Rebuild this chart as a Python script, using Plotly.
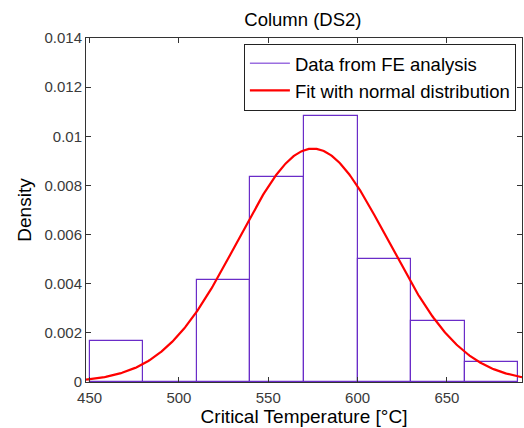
import numpy as np
import plotly.graph_objects as go

# Histogram data (density) from FE analysis
bin_edges = [450, 480, 510, 540, 570, 600, 630, 660, 690]
densities = [0.001667, 0.0, 0.004167, 0.008333, 0.010833, 0.005, 0.0025, 0.000833]

# Normal fit parameters
fit_mu = 575.0
fit_sigma = 42.0

x_range = [448, 692]
y_range = [0, 0.014]
x_ticks = [450, 500, 550, 600, 650]
y_ticks = [0, 0.002, 0.004, 0.006, 0.008, 0.01, 0.012, 0.014]
y_ticklabels = ["0", "0.002", "0.004", "0.006", "0.008", "0.01", "0.012", "0.014"]

purple = "#6a2cc8"
font_family = "Arial, Liberation Sans, sans-serif"

centers = [(a + b) / 2 for a, b in zip(bin_edges[:-1], bin_edges[1:])]
widths = [b - a for a, b in zip(bin_edges[:-1], bin_edges[1:])]

xs = np.linspace(x_range[0], x_range[1], 400)
ys = np.exp(-0.5 * ((xs - fit_mu) / fit_sigma) ** 2) / (fit_sigma * np.sqrt(2 * np.pi))

fig = go.Figure()
fig.add_trace(go.Bar(
    x=centers, y=densities, width=widths,
    marker=dict(color="rgba(255,255,255,0)", line=dict(color=purple, width=1.2)),
    showlegend=False, hoverinfo="skip",
))
fig.add_trace(go.Scatter(
    x=[None], y=[None], mode="lines",
    line=dict(color="#9b6fe0", width=1.5),
    name="Data from FE analysis",
))
fig.add_trace(go.Scatter(
    x=xs, y=ys, mode="lines",
    line=dict(color="#ff0000", width=2.2),
    name="Fit with normal distribution",
))

axis_common = dict(
    showline=True, linecolor="#333333", linewidth=1, mirror="allticks",
    ticks="inside", ticklen=5, tickcolor="#333333",
    showgrid=False, zeroline=False,
    tickfont=dict(family=font_family, size=15, color="#3a3a3a"),
)

fig.update_layout(
    width=524, height=428,
    margin=dict(l=86, r=2, t=38, b=46),
    paper_bgcolor="white", plot_bgcolor="white",
    font=dict(family=font_family, color="black"),
    title=dict(text="Column (DS2)", x=0.578, xanchor="center", y=0.955, yanchor="middle",
               font=dict(family=font_family, size=18.5, color="black")),
    xaxis=dict(range=x_range, tickvals=x_ticks, ticklabelstandoff=2,
               title=dict(text="Critical Temperature [°C]", standoff=0,
                          font=dict(family=font_family, size=19, color="black")),
               **axis_common),
    yaxis=dict(range=y_range, tickvals=y_ticks, ticktext=y_ticklabels,
               title=dict(text="Density", standoff=7,
                          font=dict(family=font_family, size=19, color="black")),
               **axis_common),
    legend=dict(x=0.986, y=0.983, xanchor="right", yanchor="top",
                bgcolor="white", bordercolor="#222222", borderwidth=1,
                font=dict(family=font_family, size=18.5, color="black"),
                tracegroupgap=0, itemwidth=40),
    bargap=0,
)

fig.write_html("out.html")
